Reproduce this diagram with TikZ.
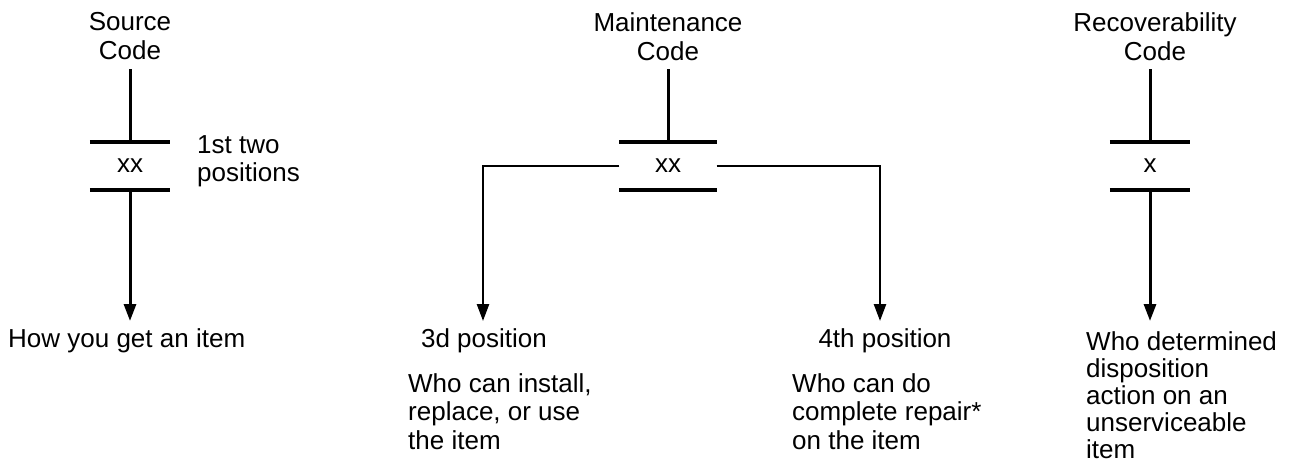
\documentclass[tikz,border=0pt]{standalone}
\usepackage{fontspec}
\setmainfont{Liberation Sans}
\usetikzlibrary{arrows.meta}
\begin{document}
\begin{tikzpicture}[x=1pt,y=-1pt,
  lbl/.style={inner sep=0pt,font=\fontsize{26}{29}\selectfont},
  blk/.style={inner sep=0pt,align=left,anchor=north west,font=\fontsize{26}{28.5}\selectfont},
  code/.style={inner sep=0pt,minimum width=80pt,minimum height=48pt,font=\fontsize{26}{29}\selectfont},
  bar/.style={line width=3.5pt},
  stem/.style={line width=3pt},
  arr/.style={line width=3pt,-{Triangle[length=17pt,width=12pt]}},
  larr/.style={line width=2.5pt,-{Triangle[length=17pt,width=12pt]}}]
\useasboundingbox (0,0) rectangle (1291,463);
% Source
\node[lbl,align=center,anchor=north] (st) at (130,12) {Source\\Code};
\coordinate (stop) at (130,69);
\node[code] (sx) at (130,166) {xx};
\draw[bar] (sx.north west) -- (sx.north east);
\draw[bar] (sx.south west) -- (sx.south east);
\draw[stem] (stop) -- (sx.north);
\node[blk] (pos12) at (197,135) {1st two\\positions};
\coordinate (send) at (130,321);
\draw[arr] (sx.south) -- (send);
\node[lbl,anchor=base west] (how) at (8,347) {How you get an item};
% Maintenance
\node[lbl,align=center,anchor=north] (mt) at (668,12) {Maintenance\\Code};
\coordinate (mtop) at (668,69);
\node[code,minimum width=97pt] (mx) at (668,166) {xx};
\draw[bar] (mx.north west) -- (mx.north east);
\draw[bar] (mx.south west) -- (mx.south east);
\draw[stem] (mtop) -- (mx.north);
\coordinate (m3) at (483,321);
\coordinate (m4) at (880,321);
\draw[larr] (mx.west) -| (m3);
\draw[larr] (mx.east) -| (m4);
\node[lbl,anchor=base] (p3) at (484,347) {3d position};
\node[blk] (w3) at (408,373) {Who can install,\\replace, or use\\the item};
\node[lbl,anchor=base] (p4) at (885,347) {4th position};
\node[blk] (w4) at (792,373) {Who can do\\complete repair*\\on the item};
% Recoverability
\node[lbl,align=center,anchor=north] (rt) at (1155,12) {Recoverability\\Code};
\coordinate (rtop) at (1150,69);
\node[code] (rx) at (1150,166) {x};
\draw[bar] (rx.north west) -- (rx.north east);
\draw[bar] (rx.south west) -- (rx.south east);
\draw[stem] (rtop) -- (rx.north);
\coordinate (rend) at (1150,321);
\draw[arr] (rx.south) -- (rend);
\node[blk,font=\fontsize{26}{27}\selectfont] (wr) at (1086,331) {Who determined\\disposition\\action on an\\unserviceable\\item};
\end{tikzpicture}
\end{document}
